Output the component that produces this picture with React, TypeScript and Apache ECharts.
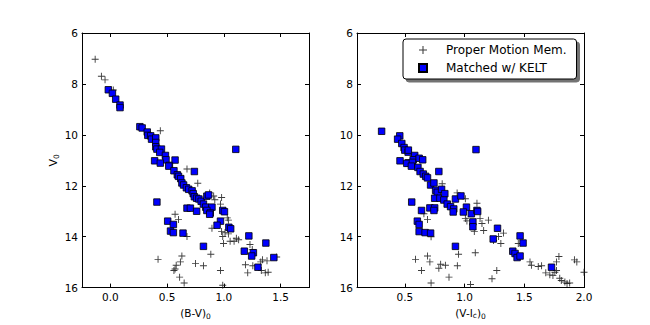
import React, { useEffect, useRef } from "react";
import * as echarts from "echarts";

const bvCrosses: number[][] = [
  [-0.134, 7.03], [-0.079, 7.7], [-0.047, 7.84], [0.026, 8.24], [0.44, 9.84],
  [0.675, 11.34], [0.77, 11.9], [0.875, 12.28], [0.91, 12.4], [0.98, 12.46],
  [0.97, 12.72], [0.57, 13.12], [0.6, 13.33], [0.895, 13.67], [1.03, 13.26],
  [1.04, 13.35], [0.98, 13.8], [1.01, 13.84], [1.04, 13.89], [0.675, 13.99],
  [1.11, 14.06], [1.13, 14.12], [1.055, 14.18], [1.09, 14.18], [0.997, 14.27],
  [1.23, 14.31], [1.25, 14.5], [0.885, 14.69], [0.42, 14.89], [0.63, 14.76],
  [0.617, 14.99], [0.58, 15.12], [0.57, 15.27], [0.56, 15.33], [0.75, 15.05],
  [0.82, 15.14], [0.61, 15.59], [0.65, 15.82], [0.97, 15.33], [0.99, 15.91],
  [1.19, 15.1], [1.21, 15.42], [1.325, 14.99], [1.34, 14.91], [1.38, 14.95],
  [1.33, 15.33], [1.365, 15.42], [1.39, 15.4], [1.255, 15.14], [1.465, 14.8],
  [0.99, 13.99], [0.92, 12.55], [0.86, 12.9],
];

const bvKelt: number[][] = [
  [-0.018, 8.23], [0.018, 8.37], [0.047, 8.6], [0.085, 8.83], [0.085, 8.93],
  [0.26, 9.68], [0.28, 9.73], [0.325, 9.89], [0.33, 10.02], [0.355, 10.04],
  [0.363, 10.17], [0.4, 10.12], [0.4, 10.3], [0.4, 10.47], [0.41, 10.56],
  [0.45, 10.56], [0.435, 10.69], [0.485, 10.81], [0.49, 10.98], [0.39, 11.02],
  [0.44, 11.11], [0.57, 10.99], [1.105, 10.57], [0.52, 11.2], [0.515, 11.23],
  [0.56, 11.41], [0.59, 11.57], [0.6, 11.63], [0.62, 11.72], [0.63, 11.89],
  [0.645, 11.97], [0.67, 12.08], [0.69, 12.14], [0.72, 12.2], [0.73, 12.31],
  [0.74, 12.43], [0.76, 12.49], [0.78, 12.52], [0.8, 12.61], [0.74, 11.44],
  [0.41, 12.64], [0.85, 12.41], [0.865, 12.36], [0.82, 12.72], [0.84, 12.84],
  [0.895, 12.84], [0.85, 12.97], [0.88, 13.07], [0.875, 13.12], [0.675, 12.88],
  [0.705, 12.88], [0.76, 13.0], [0.99, 12.97], [1.005, 13.02], [0.505, 13.39],
  [0.555, 13.52], [0.53, 13.78], [0.555, 13.84], [0.64, 13.86], [0.97, 13.39],
  [0.94, 13.55], [1.044, 13.63], [1.06, 13.69], [0.82, 14.38], [1.22, 13.97],
  [1.18, 14.57], [1.26, 14.63], [1.245, 14.76], [1.37, 14.25], [1.44, 14.82],
  [1.3, 15.2],
];

const viCrosses: number[][] = [
  [0.813, 11.92], [0.938, 12.28], [1.007, 12.51], [1.104, 12.69], [0.69, 13.33],
  [1.007, 13.29], [1.02, 13.38], [1.13, 13.29], [1.2, 13.35], [1.146, 13.48],
  [1.16, 13.76], [1.082, 13.8], [1.326, 13.86], [1.285, 13.99], [1.243, 14.15],
  [1.304, 14.27], [1.45, 14.27], [1.09, 14.63], [0.95, 14.69], [0.59, 14.89],
  [0.69, 14.76], [0.71, 14.99], [0.64, 15.33], [0.8, 15.08], [0.84, 15.12],
  [0.785, 15.24], [0.94, 15.14], [0.87, 15.59], [0.72, 15.82], [1.05, 15.88],
  [1.27, 15.33], [1.23, 15.65], [1.548, 14.99], [1.56, 15.12], [1.617, 15.17],
  [1.645, 15.14], [1.68, 15.42], [1.714, 15.5], [1.756, 15.4], [1.79, 14.78],
  [1.77, 14.99], [1.797, 15.63], [1.81, 15.72], [1.84, 15.78], [1.858, 15.84],
  [1.88, 15.82], [1.77, 15.33], [2.0, 15.4], [1.92, 14.91], [1.94, 14.99],
  [1.74, 15.52], [0.72, 14.0], [0.66, 13.1],
];

const viKelt: number[][] = [
  [0.306, 9.86], [0.458, 10.04], [0.44, 10.17], [0.475, 10.34], [0.494, 10.5],
  [0.5, 10.6], [0.528, 10.68], [0.53, 10.6], [0.583, 10.81], [0.57, 10.98],
  [0.46, 11.02], [0.53, 11.1], [0.62, 10.92], [0.65, 10.98], [1.096, 10.58],
  [0.56, 11.17], [0.517, 11.12], [0.564, 11.08], [0.555, 11.23], [0.61, 11.28],
  [0.628, 11.44], [0.655, 11.54], [0.675, 11.63], [0.69, 11.69], [0.785, 11.44],
  [0.716, 11.97], [0.744, 11.89], [0.758, 12.18], [0.772, 12.26], [0.808, 12.14],
  [0.75, 12.49], [0.794, 12.49], [0.835, 12.31], [0.827, 12.56], [0.855, 12.72],
  [0.883, 12.82], [0.924, 12.52], [0.97, 12.4], [0.91, 12.91], [0.905, 13.03],
  [1.016, 12.84], [0.99, 13.03], [1.057, 13.1], [1.104, 12.97], [1.11, 13.01],
  [1.07, 13.42], [1.07, 13.61], [0.558, 12.64], [0.64, 12.97], [0.71, 12.87],
  [0.75, 12.87], [0.744, 12.97], [0.605, 13.39], [0.62, 13.52], [0.62, 13.8],
  [0.67, 13.84], [0.716, 13.86], [0.924, 14.38], [1.276, 13.67], [1.24, 14.09],
  [1.404, 14.57], [1.423, 14.66], [1.44, 14.82], [1.465, 14.76], [1.465, 13.97],
  [1.49, 14.25], [1.728, 15.2],
];

const bvTicks = [0, 0.5, 1.0, 1.5];
const viTicks = [0.5, 1.0, 1.5, 2.0];
const crossName = "Proper Motion Mem.";
const keltName = "Matched w/ KELT";

const CROSS = "path://M0,4.35H10V5.65H0Z M4.35,0H5.65V10H4.35Z";
const FONT = "DejaVu Sans";

export default function App() {
  const ref = useRef<HTMLDivElement>(null);
  useEffect(() => {
    document.body.style.margin = "0";
    const chart = echarts.init(ref.current!, null, { renderer: "svg" });
    const axLine = { show: true, onZero: false, lineStyle: { color: "#000", width: 1 } };
    const tick = (vals: number[] | null) => ({
      show: true, inside: true, length: 4, lineStyle: { color: "#000" },
      ...(vals ? { customValues: vals } : {}),
    });
    const xLab = (vals: number[]) => ({
      show: true, customValues: vals, margin: 4, color: "#000", fontSize: 10.5,
      fontFamily: FONT, formatter: (v: number) => v.toFixed(1),
    });
    const mkX = (grid: number, min: number, max: number, vals: number[], name: string, rich: any) => [
      {
        type: "value", gridIndex: grid, min, max, position: "bottom",
        axisLine: axLine, axisTick: tick(vals), axisLabel: xLab(vals), splitLine: { show: false },
        name, nameLocation: "middle", nameGap: 15,
        nameTextStyle: { color: "#000", fontSize: 10.5, fontFamily: FONT, rich },
      },
      {
        type: "value", gridIndex: grid, min, max, position: "top",
        axisLine: axLine, axisTick: tick(vals), axisLabel: { show: false }, splitLine: { show: false },
      },
    ];
    const mkY = (grid: number, withName: boolean) => [
      {
        type: "value", gridIndex: grid, min: 6, max: 16, interval: 2, inverse: true, position: "left",
        axisLine: axLine, axisTick: tick(null),
        axisLabel: { show: true, margin: 4, color: "#000", fontSize: 10.5, fontFamily: FONT },
        splitLine: { show: false },
        ...(withName
          ? {
              name: "V{sub|0}", nameLocation: "middle", nameGap: 22, nameRotate: 90,
              nameTextStyle: {
                color: "#000", fontSize: 11, fontFamily: FONT,
                rich: { sub: { fontSize: 7.5, fontFamily: FONT, color: "#000", padding: [5, 0, 0, 0] } },
              },
            }
          : {}),
      },
      {
        type: "value", gridIndex: grid, min: 6, max: 16, interval: 2, inverse: true, position: "right",
        axisLine: axLine, axisTick: tick(null), axisLabel: { show: false }, splitLine: { show: false },
      },
    ];
    const sub = { fontSize: 7.5, fontFamily: FONT, color: "#000", padding: [6, 0, 0, 0] };
    const crossStyle = { symbol: CROSS, symbolSize: 7, itemStyle: { color: "#1a1a1a", opacity: 0.85 } };
    const keltStyle = {
      symbol: "rect", symbolSize: 6.5,
      itemStyle: { color: "#0000ff", borderColor: "#000", borderWidth: 0.8, opacity: 1 },
    };
    chart.setOption({
      animation: false,
      backgroundColor: "#fff",
      grid: [
        { left: 82, top: 33, width: 227, height: 259, containLabel: false },
        { left: 357, top: 33, width: 227, height: 259, containLabel: false },
      ],
      xAxis: [
        ...mkX(0, -0.25, 1.75, bvTicks, "(B-V){sub|0}", { sub }),
        ...mkX(1, 0.1, 2.0, viTicks, "(V-I{subc|c}){sub|0}", {
          sub,
          subc: { fontSize: 7.5, fontFamily: FONT, color: "#000", padding: [4, 0, 0, 0] },
        }),
      ],
      yAxis: [...mkY(0, true), ...mkY(1, false)],
      legend: {
        left: 403, top: 39, orient: "vertical",
        data: [crossName, keltName],
        itemWidth: 8, itemHeight: 8, itemGap: 6,
        padding: [5, 10, 5, 15],
        borderColor: "#000", borderWidth: 1, borderRadius: 3,
        backgroundColor: "#fff",
        shadowColor: "rgba(0,0,0,0.55)", shadowBlur: 1, shadowOffsetX: 3, shadowOffsetY: 3,
        textStyle: { color: "#000", fontSize: 12, fontFamily: FONT, padding: [0, 0, 0, 14] },
      },
      series: [
        { type: "scatter", name: crossName, xAxisIndex: 0, yAxisIndex: 0, data: bvCrosses, ...crossStyle },
        { type: "scatter", name: keltName, xAxisIndex: 0, yAxisIndex: 0, data: bvKelt, ...keltStyle },
        { type: "scatter", name: crossName, xAxisIndex: 2, yAxisIndex: 2, data: viCrosses, ...crossStyle },
        { type: "scatter", name: keltName, xAxisIndex: 2, yAxisIndex: 2, data: viKelt, ...keltStyle },
      ],
    });
    return () => chart.dispose();
  }, []);
  return <div ref={ref} style={{ position: "absolute", left: 0, top: 0, width: 650, height: 325 }} />;
}
